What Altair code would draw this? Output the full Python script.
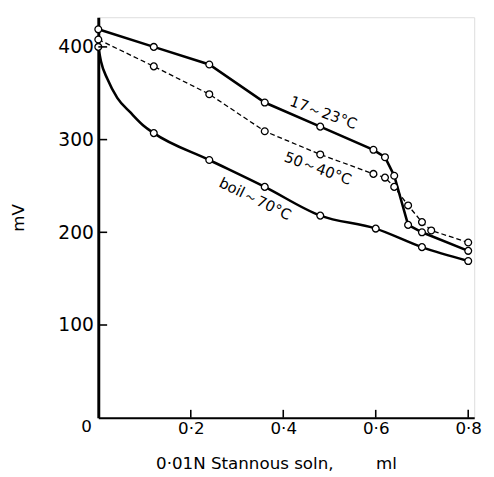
import altair as alt
import pandas as pd

# ---- data ----
x_top = [0.0, 0.12, 0.24, 0.36, 0.48, 0.595, 0.62, 0.64, 0.67, 0.70, 0.80]
y_top = [419, 400, 381, 340, 314, 289, 281, 261, 208, 200, 180]

x_mid = [0.0, 0.12, 0.24, 0.36, 0.48, 0.595, 0.62, 0.64, 0.67, 0.70, 0.72, 0.80]
y_mid = [408, 379, 349, 309, 284, 263, 259, 249, 229, 211, 202, 189]

x_boil = [0.0, 0.12, 0.24, 0.36, 0.48, 0.60, 0.70, 0.80]
y_boil = [400, 307, 278, 249, 218, 204, 184, 169]

# points read along the drawn (curved) boil line between the first two markers
x_boil_curve = [0.0, 0.006, 0.020, 0.041, 0.070, 0.098, 0.12, 0.24, 0.36, 0.48, 0.60, 0.70, 0.80]
y_boil_curve = [400, 384, 365, 345, 329, 315, 307, 278, 249, 218, 204, 184, 169]

label_text = ["17～23°C", "50～40°C", "boil～70°C"]
label_x = [0.487, 0.475, 0.339]
label_y = [329, 269, 236]
label_angle = [20, 20, 26]

x_ticks = [0.2, 0.4, 0.6, 0.8]
y_ticks = [100, 200, 300, 400]

FONT = "DejaVu Sans"

top = pd.DataFrame({"x": x_top, "y": y_top, "s": "17～23°C"})
mid = pd.DataFrame({"x": x_mid, "y": y_mid, "s": "50～40°C"})
boil = pd.DataFrame({"x": x_boil, "y": y_boil, "s": "boil～70°C"})
boil_curve = pd.DataFrame({"x": x_boil_curve, "y": y_boil_curve})
allpts = pd.concat([top, mid, boil], ignore_index=True)
labels = pd.DataFrame({"t": label_text, "x": label_x, "y": label_y, "a": label_angle})
origin = pd.DataFrame({"t": ["0"], "x": [0.0], "y": [0]})
xt = pd.DataFrame({"x": x_ticks})
yt = pd.DataFrame({"y": y_ticks})

xs = alt.Scale(domain=[0, 0.813], nice=False, zero=False)
ys = alt.Scale(domain=[0, 432], nice=False, zero=False)

x_main = alt.Axis(values=x_ticks, ticks=False, grid=False, domainColor="black", domainWidth=2,
                  labelExpr="replace(format(datum.value, '.1f'), '.', '·')",
                  labelFont=FONT, labelFontSize=17, labelColor="black", labelPadding=3,
                  title="0·01N Stannous soln,\u00a0\u00a0\u00a0\u00a0\u00a0\u00a0\u00a0\u00a0ml",
                  titleFont=FONT, titleFontSize=17, titleFontWeight="normal", titleColor="black",
                  titleX=181, titleY=47, titleBaseline="middle", orient="bottom")
y_main = alt.Axis(values=y_ticks, ticks=False, grid=False, domainColor="black", domainWidth=3,
                  labelFont=FONT, labelFontSize=19, labelColor="black", labelPadding=5,
                  title="mV", titleFont=FONT, titleFontSize=17, titleFontWeight="normal",
                  titleColor="black", titleX=-81, titleY=204, titleBaseline="middle",
                  titleAngle=-90, orient="left")

def X(ax=None):
    return alt.X("x:Q", scale=xs, axis=ax)

def Y(ax=None):
    return alt.Y("y:Q", scale=ys, axis=ax)

line_top = alt.Chart(top).mark_line(color="black", strokeWidth=2.6).encode(x=X(x_main), y=Y(y_main))
line_mid = alt.Chart(mid).mark_line(color="black", strokeWidth=1.3, strokeDash=[5, 3]).encode(x=X(), y=Y())
line_boil = alt.Chart(boil_curve).mark_line(color="black", strokeWidth=2.6,
                                            interpolate="monotone").encode(x=X(), y=Y())
points = alt.Chart(allpts).mark_point(shape="circle", size=48, filled=False, fill="white",
                                      fillOpacity=1, stroke="black", strokeWidth=1.3,
                                      opacity=1).encode(x=X(), y=Y())
texts = alt.Chart(labels).mark_text(font=FONT, fontSize=15, color="black").encode(
    x=X(), y=Y(), text="t:N", angle=alt.Angle("a:Q", scale=None),
)
orig = alt.Chart(origin).mark_text(font=FONT, fontSize=17, color="black", dx=-12, dy=10).encode(
    x=X(), y=Y(), text="t:N",
)
xtick_marks = alt.Chart(xt).mark_tick(color="black", orient="vertical", thickness=1.6, size=8,
                                      opacity=1).encode(x=X(), y=alt.value(404))
ytick_marks = alt.Chart(yt).mark_tick(color="black", orient="horizontal", thickness=1.6, size=9,
                                      opacity=1).encode(y=Y(), x=alt.value(4.5))

chart = alt.layer(line_top, line_mid, line_boil, points, texts, orig, xtick_marks, ytick_marks).resolve_axis(
    x="independent", y="independent"
).properties(
    width=383, height=408,
    autosize=alt.AutoSizeParams(type="none"),
    padding={"left": 92, "top": 5, "right": 12, "bottom": 56},
).configure_view(stroke=None).configure(background="white")

chart.save("out.html", embed_options={"renderer": "svg", "actions": False})
